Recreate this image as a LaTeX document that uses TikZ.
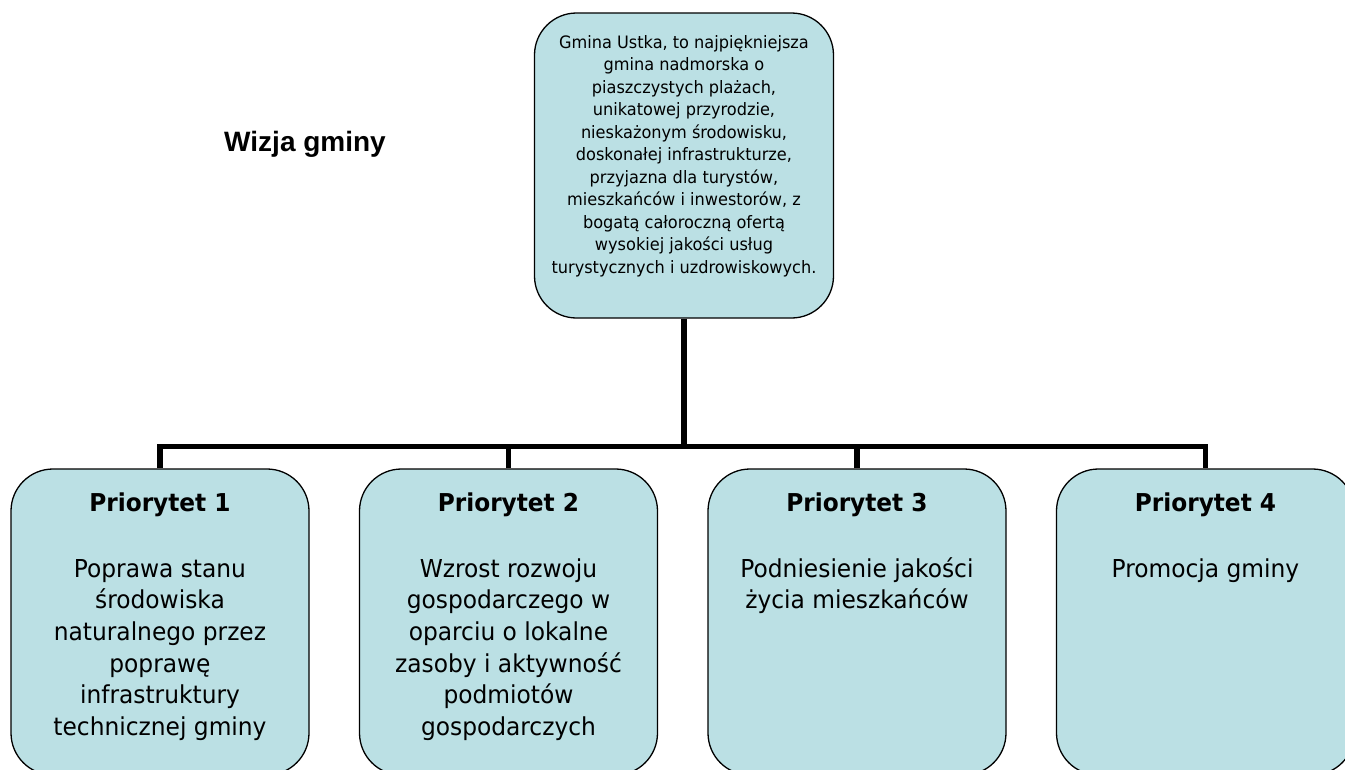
\documentclass[tikz,border=0pt]{standalone}
\usepackage{fontspec}
\setmainfont{DejaVu Sans Condensed}[FakeStretch=1.05]
\newfontfamily\arialfont{Liberation Sans}
\definecolor{boxblue}{RGB}{187,224,228}
\tikzset{
  box/.style={draw=black, line width=1.3pt, fill=boxblue, rounded corners=42pt,
    minimum width=298pt, inner sep=0pt},
  conn/.style={line width=5.5pt, draw=black, line join=miter},
  vistext/.style={anchor=base, align=center, inner sep=0pt, font=\fontsize{17.1}{22.5}\selectfont},
  titletext/.style={anchor=base, align=center, inner sep=0pt, font=\bfseries\fontsize{24.6}{28}\selectfont},
  bodytext/.style={anchor=base, align=center, inner sep=0pt, font=\fontsize{24.7}{31.7}\selectfont},
}
\begin{document}
\begin{tikzpicture}[x=1pt,y=-1pt]
\useasboundingbox (0,0) rectangle (1345,769);
% boxes
\node[box, minimum width=299pt, minimum height=305pt] (top) at (684,165.5) {};
\node[box, minimum height=306pt] (p1) at (160,622) {};
\node[box, minimum height=306pt] (p2) at (508.5,622) {};
\node[box, minimum height=306pt] (p3) at (857,622) {};
\node[box, minimum height=306pt] (p4) at (1205.5,622) {};
% connectors
\coordinate (j) at (684,446.5);
\draw[conn] (top.south) -- (j);
\draw[conn] (p1.north) -- (p1.north |- j) -- (p4.north |- j) -- (p4.north);
\draw[conn] (p2.north) -- (p2.north |- j);
\draw[conn] (p3.north) -- (p3.north |- j);
% texts (base anchor = baseline of last line)
\node[anchor=base, inner sep=0pt, font=\arialfont\bfseries\fontsize{28}{34}\selectfont] (wizja) at (305,151.7) {Wizja gminy};
\node[vistext] (vt) at (684,273) {Gmina Ustka, to najpiękniejsza\\gmina nadmorska o\\piaszczystych plażach,\\unikatowej przyrodzie,\\nieskażonym środowisku,\\doskonałej infrastrukturze,\\przyjazna dla turystów,\\mieszkańców i inwestorów, z\\bogatą całoroczną ofertą\\wysokiej jakości usług\\turystycznych i uzdrowiskowych.};
\node[titletext] (t1) at (160,511.7) {Priorytet 1};
\node[titletext] (t2) at (508.5,511.7) {Priorytet 2};
\node[titletext] (t3) at (857,511.7) {Priorytet 3};
\node[titletext] (t4) at (1205.5,511.7) {Priorytet 4};
\node[bodytext] (b1) at (160,735.5) {Poprawa stanu\\środowiska\\naturalnego przez\\poprawę\\infrastruktury\\technicznej gminy};
\node[bodytext] (b2) at (508.5,735.5) {Wzrost rozwoju\\gospodarczego w\\oparciu o lokalne\\zasoby i aktywność\\podmiotów\\gospodarczych};
\node[bodytext] (b3) at (857,608.7) {Podniesienie jakości\\życia mieszkańców};
\node[bodytext] (b4) at (1205.5,577) {Promocja gminy};
\end{tikzpicture}
\end{document}
